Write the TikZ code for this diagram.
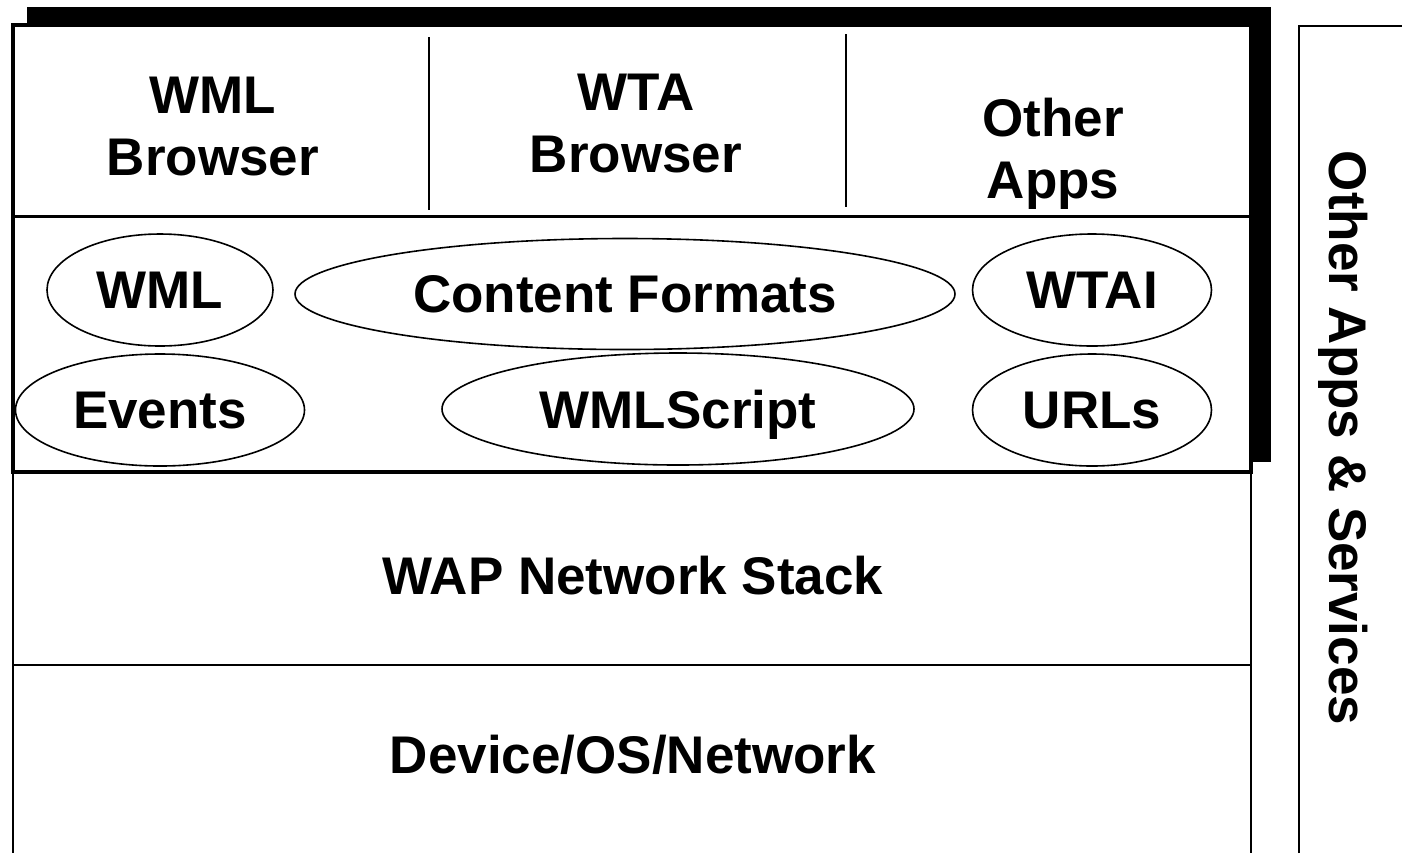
\documentclass[tikz,border=0pt]{standalone}
\usepackage{fontspec}
\setmainfont{Liberation Sans}
\usetikzlibrary{shapes.geometric}

\begin{document}
\begin{tikzpicture}[x=0.5pt,y=-0.5pt,
                lbl/.style={font=\bfseries\fontsize{26.5}{31}\selectfont,align=center,inner sep=0pt},
                blob/.style={lbl,draw,ellipse,line width=0.8pt,minimum height=56pt,text depth=0pt}]
                \useasboundingbox (0,0) rectangle (1402,853);
                %% Shadowed frame round the application layer
                \fill (27,7) rectangle (1271,462);
                \draw[fill=white,line width=2pt] (13,25) rectangle (1251,472);
                \draw[line width=1.5pt] (13,216) -- (1251,216);
                \draw[line width=1pt] (429,37) -- (429,210);
                \draw[line width=1pt] (846,34) -- (846,207);
                %% Lower layers
                \draw[line width=1.3pt] (13,472) -- (13,853);
                \draw[line width=1.3pt] (1251,472) -- (1251,853);
                \draw[line width=1.3pt] (13,665) -- (1251,665);
                %% Side panel
                \draw[line width=1pt] (1299,853) -- (1299,26) -- (1402,26);
                %% Applications
                \node[lbl] (wmlbrowser) at (213,127) {WML\\Browser};
                \node[lbl] (wtabrowser) at (636,124) {WTA\\Browser};
                \node[lbl] (otherapps) at (1053,154) {Other\\Apps};
                %% Environment
                \node[blob,minimum width=113pt] (wml) at (160,290) {WML};
                \node[blob,minimum width=330pt,minimum height=55.5pt] (formats) at (625,294) {Content Formats};
                \node[blob,minimum width=119.5pt] (wtai) at (1092,290) {WTAI};
                \node[blob,minimum width=144.5pt] (events) at (160,410) {Events};
                \node[blob,minimum width=236pt] (wmlscript) at (678,409) {WMLScript};
                \node[blob,minimum width=119.5pt] (urls) at (1092,410) {URLs};
                %% Stack and device
                \node[lbl] (netstack) at (633,576) {WAP Network Stack};
                \node[lbl,text depth=0pt] (device) at (633,754) {Device/OS/Network};
                \node[lbl,rotate=-90] (services) at (1343,438) {Other Apps \& Services};
            \end{tikzpicture}
\end{document}
